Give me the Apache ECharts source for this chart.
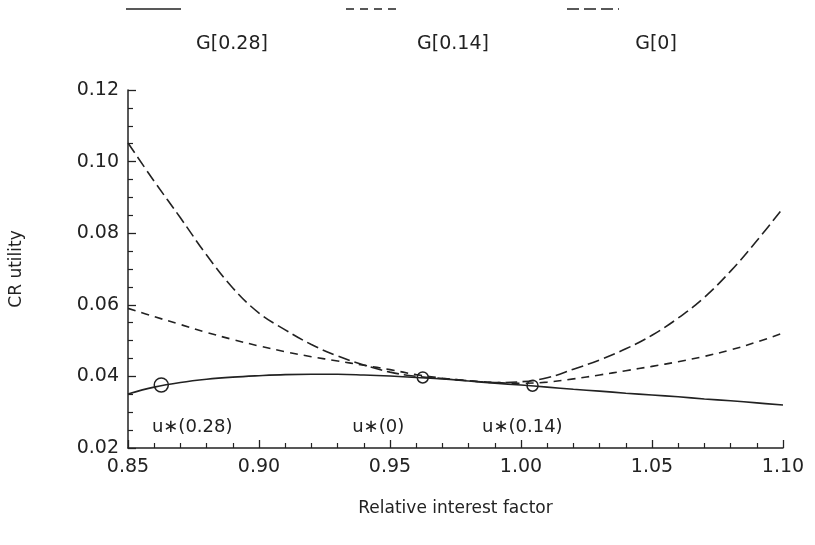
<!DOCTYPE html>
<html>
<head>
<meta charset="utf-8">
<script src="https://cdn.jsdelivr.net/npm/echarts@6/dist/echarts.min.js"></script>
<style>
html,body{margin:0;padding:0;background:#fff;}
#c{width:815px;height:545px;}
</style>
</head>
<body>
<div id="c"></div>
<script>
// ---- data ----
var xValues = [0.85,0.86,0.87,0.88,0.89,0.90,0.91,0.92,0.93,0.94,0.95,0.96,0.97,0.98,0.99,1.00,1.01,1.02,1.03,1.04,1.05,1.06,1.07,1.08,1.09,1.10];
var seriesNames = ['G[0.28]', 'G[0.14]', 'G[0]'];
var g028 = [0.0351,0.0370,0.0383,0.0392,0.0398,0.0402,0.0405,0.0406,0.0406,0.0404,0.0401,0.0397,0.0393,0.0387,0.0381,0.0376,0.0370,0.0364,0.0359,0.0353,0.0348,0.0343,0.0337,0.0332,0.0326,0.0320];
var g014 = [0.0590,0.0567,0.0545,0.0523,0.0503,0.0485,0.0469,0.0455,0.0443,0.0431,0.0419,0.0405,0.0395,0.0388,0.0383,0.0381,0.0384,0.0393,0.0404,0.0416,0.0428,0.0441,0.0456,0.0474,0.0496,0.0521];
var g0   = [0.1052,0.0945,0.0843,0.0739,0.0647,0.0577,0.0530,0.0489,0.0457,0.0432,0.0412,0.0400,0.0394,0.0388,0.0383,0.0385,0.0396,0.0420,0.0446,0.0477,0.0515,0.0563,0.0621,0.0694,0.0779,0.0870];
var optX = [0.8627, 0.9625, 1.0044];
var optY = [0.0376, 0.0397, 0.0374];
var optSize = [14, 11, 11];
var noteText = ['u\u2217(0.28)', 'u\u2217(0)', 'u\u2217(0.14)'];
var noteX = [0.8745, 0.9455, 1.0005];
var noteY = [0.0258, 0.0258, 0.0258];
var xTicks = [0.85, 0.90, 0.95, 1.00, 1.05, 1.10];
var yTicks = [0.02, 0.04, 0.06, 0.08, 0.10, 0.12];

var INK = '#222';
var FONT = 'DejaVu Sans';

function pairs(xs, ys){ return xs.map(function(x,i){ return [x, ys[i]]; }); }

var chart = echarts.init(document.getElementById('c'), null, {renderer:'canvas'});
var option = {
  backgroundColor: '#fff',
  animation: false,
  grid: {left: 126, right: 32, top: 90, bottom: 97},
  xAxis: {
    type: 'value', min: xTicks[0], max: xTicks[xTicks.length-1], interval: 0.05,
    name: 'Relative interest factor', nameLocation: 'middle', nameGap: 52,
    nameTextStyle: {fontFamily: FONT, fontSize: 17, color: INK},
    axisLine: {lineStyle: {color: INK, width: 1.5}},
    axisTick: {inside: true, length: 8, lineStyle: {color: INK, width: 1.3}},
    minorTick: {show: true, splitNumber: 5, length: 5, lineStyle: {color: INK, width: 1.2}},
    axisLabel: {fontFamily: FONT, fontSize: 19, color: INK, margin: 10,
      formatter: function(v){ return v.toFixed(2); }},
    splitLine: {show: false}
  },
  yAxis: {
    type: 'value', min: yTicks[0], max: yTicks[yTicks.length-1], interval: 0.02,
    name: 'CR utility', nameLocation: 'middle', nameGap: 103,
    nameTextStyle: {fontFamily: FONT, fontSize: 17, color: INK},
    axisLine: {lineStyle: {color: INK, width: 1.5}},
    axisTick: {inside: true, length: 8, lineStyle: {color: INK, width: 1.3}},
    minorTick: {show: true, splitNumber: 4, length: 5, lineStyle: {color: INK, width: 1.2}},
    axisLabel: {fontFamily: FONT, fontSize: 19, color: INK, margin: 9,
      formatter: function(v){ return v.toFixed(2); }},
    splitLine: {show: false}
  },
  series: [
    {name: seriesNames[0], type: 'line', data: pairs(xValues, g028), smooth: 0.4, symbol: 'none',
     lineStyle: {color: INK, width: 1.6}},
    {name: seriesNames[1], type: 'line', data: pairs(xValues, g014), smooth: 0.4, symbol: 'none',
     lineStyle: {color: INK, width: 1.6, type: [8, 6]}},
    {name: seriesNames[2], type: 'line', data: pairs(xValues, g0), smooth: 0.4, symbol: 'none',
     lineStyle: {color: INK, width: 1.6, type: [12, 5]}},
    {type: 'scatter', data: pairs(optX, optY), symbol: 'circle',
     symbolSize: function(v, p){ return optSize[p.dataIndex]; },
     itemStyle: {color: 'rgba(255,255,255,0)', borderColor: INK, borderWidth: 1.5, opacity: 1}, z: 5},
    {type: 'scatter', data: pairs(noteX, noteY), symbolSize: 0,
     itemStyle: {opacity: 1},
     label: {show: true, position: 'inside', fontFamily: FONT, fontSize: 18, color: INK, opacity: 1,
       formatter: function(p){ return noteText[p.dataIndex]; }}}
  ],
  graphic: [
    {type: 'line', shape: {x1: 126, y1: 9, x2: 181, y2: 9}, style: {stroke: INK, lineWidth: 1.5}},
    {type: 'line', shape: {x1: 346, y1: 9, x2: 400, y2: 9}, style: {stroke: INK, lineWidth: 1.5, lineDash: [8, 6]}},
    {type: 'line', shape: {x1: 567, y1: 9, x2: 619, y2: 9}, style: {stroke: INK, lineWidth: 1.5, lineDash: [12, 5]}},
    {type: 'text', x: 232, y: 44, style: {text: seriesNames[0], font: '19px "DejaVu Sans"', fill: INK, textAlign: 'center', textVerticalAlign: 'middle'}},
    {type: 'text', x: 453, y: 44, style: {text: seriesNames[1], font: '19px "DejaVu Sans"', fill: INK, textAlign: 'center', textVerticalAlign: 'middle'}},
    {type: 'text', x: 656, y: 44, style: {text: seriesNames[2], font: '19px "DejaVu Sans"', fill: INK, textAlign: 'center', textVerticalAlign: 'middle'}}
  ]
};
chart.setOption(option);
</script>
</body>
</html>
